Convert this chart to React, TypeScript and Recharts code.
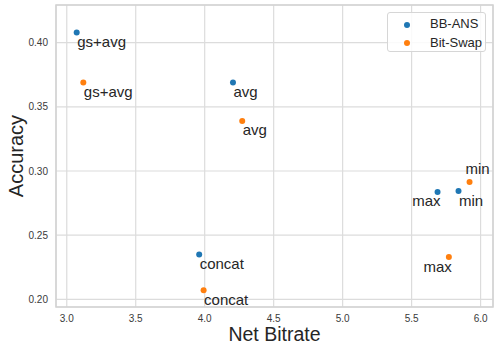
import React from 'react';
import { ScatterChart, Scatter, XAxis, YAxis, CartesianGrid, ReferenceArea, Legend } from 'recharts';

// values
const methods = ['gs+avg', 'avg', 'concat', 'max', 'min'];
const bbAnsBitrate = [3.072, 4.205, 3.96, 5.688, 5.84];
const bbAnsAccuracy = [0.408, 0.369, 0.235, 0.2836, 0.2844];
const bitSwapBitrate = [3.12, 4.272, 3.992, 5.77, 5.92];
const bitSwapAccuracy = [0.369, 0.339, 0.207, 0.233, 0.2914];

const xTicks = [3.0, 3.5, 4.0, 4.5, 5.0, 5.5, 6.0];
const yTicks = [0.2, 0.25, 0.3, 0.35, 0.4];
const xDomain = [2.922, 6.09];
const yDomain = [0.194, 0.4294];

const BLUE = '#1f77b4';
const ORANGE = '#ff7f0e';
const TEXT = '#262626';
const FONT = '"Liberation Sans", Arial, sans-serif';

const toRows = (xs: number[], ys: number[]) =>
  methods.map((m, i) => ({ name: m, bitrate: xs[i], accuracy: ys[i] }));

const bbAnsData = toRows(bbAnsBitrate, bbAnsAccuracy);
const bitSwapData = toRows(bitSwapBitrate, bitSwapAccuracy);

// where each annotation sits relative to its dot (most go below-right)
const labelPlace: Record<string, { anchor: 'start' | 'end'; dx: number; dy: number }> = {
  'BB-ANS/max': { anchor: 'end', dx: 3, dy: 14 },
  'Bit-Swap/max': { anchor: 'end', dx: 3, dy: 15 },
  'Bit-Swap/min': { anchor: 'start', dx: -4, dy: -8 },
};
const defaultPlace = { anchor: 'start' as const, dx: 0.5, dy: 14.5 };

const makeShape = (series: string, color: string) => (props: any) => {
  const { cx, cy, payload } = props;
  const p = labelPlace[`${series}/${payload.name}`] || defaultPlace;
  return (
    <g>
      <circle cx={cx} cy={cy} r={3} fill={color} />
      <text x={cx + p.dx} y={cy + p.dy} textAnchor={p.anchor} fontSize={15} fill={TEXT} fontFamily={FONT}>
        {payload.name}
      </text>
    </g>
  );
};

const LegendBox = () => (
  <div
    style={{
      width: 99,
      height: 40,
      boxSizing: 'border-box',
      border: '1px solid #d6d6d6',
      borderRadius: 3,
      background: 'rgba(255,255,255,0.85)',
      fontFamily: FONT,
      fontSize: 13,
      color: TEXT,
      position: 'relative',
    }}
  >
    {[
      ['BB-ANS', BLUE],
      ['Bit-Swap', ORANGE],
    ].map(([name, color], i) => (
      <div key={name} style={{ position: 'absolute', left: 0, top: 3 + i * 18.5, height: 16, width: '100%' }}>
        <span
          style={{
            position: 'absolute',
            left: 15.5,
            top: 5.5,
            width: 6,
            height: 6,
            borderRadius: 3,
            background: color,
          }}
        />
        <span style={{ position: 'absolute', left: 42, top: 0, lineHeight: '16px' }}>{name}</span>
      </div>
    ))}
  </div>
);

export default function App() {
  return (
    <div style={{ position: 'relative', width: 494, height: 345, background: '#fff' }}>
      <style>{'body{margin:0}'}</style>
      <ScatterChart width={494} height={345} margin={{ top: 5, right: 1, left: 0, bottom: 0 }}>
        <CartesianGrid stroke="#dcdcdc" strokeWidth={1.2} />
        <ReferenceArea
          x1={xDomain[0]}
          x2={xDomain[1]}
          y1={yDomain[0]}
          y2={yDomain[1]}
          fill="none"
          stroke="#d2d2d2"
          strokeWidth={1.5}
          ifOverflow="visible"
        />
        <XAxis
          type="number"
          dataKey="bitrate"
          domain={xDomain}
          ticks={xTicks}
          allowDataOverflow
          axisLine={false}
          tickLine={false}
          height={38}
          tickFormatter={(v: number) => v.toFixed(1)}
          tick={{ fontSize: 10, fill: '#3a3a3a', fontFamily: FONT }}
          label={{ value: 'Net Bitrate', position: 'center', dy: 8.5, fontSize: 19.5, fill: TEXT, fontFamily: FONT }}
        />
        <YAxis
          type="number"
          dataKey="accuracy"
          domain={yDomain}
          ticks={yTicks}
          allowDataOverflow
          axisLine={false}
          tickLine={false}
          width={56}
          tickFormatter={(v: number) => v.toFixed(2)}
          tick={{ fontSize: 10, fill: '#3a3a3a', fontFamily: FONT }}
          label={{ value: 'Accuracy', angle: -90, position: 'center', dx: -12, fontSize: 20, fill: TEXT, fontFamily: FONT }}
        />
        <Legend
          layout="vertical"
          align="center"
          verticalAlign="middle"
          wrapperStyle={{ left: 387, top: 12, width: 99 }}
          content={() => <LegendBox />}
        />
        <Scatter name="BB-ANS" data={bbAnsData} fill={BLUE} shape={makeShape('BB-ANS', BLUE)} isAnimationActive={false} />
        <Scatter name="Bit-Swap" data={bitSwapData} fill={ORANGE} shape={makeShape('Bit-Swap', ORANGE)} isAnimationActive={false} />
      </ScatterChart>
    </div>
  );
}
